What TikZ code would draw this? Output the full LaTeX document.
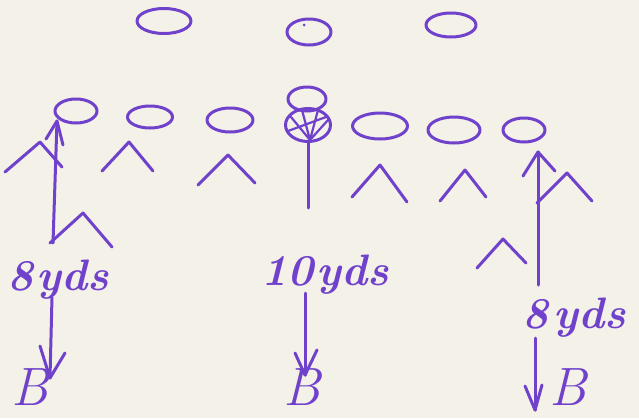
\documentclass[tikz,border=0pt]{standalone}
\usetikzlibrary{shapes.geometric}
\definecolor{ink}{RGB}{112,66,204}
\definecolor{paper}{RGB}{244,241,233}
\begin{document}
\begin{tikzpicture}[x=1pt,y=-1pt,
 pen/.style={draw=ink, line width=3pt, line cap=round, line join=round},
 player/.style={pen, ellipse, inner sep=0pt},
 lbl/.style={text=ink, font=\fontsize{44}{44}\selectfont\bfseries\itshape, inner sep=0pt, anchor=base},
 bee/.style={text=ink, font=\fontsize{54}{54}\selectfont\itshape, inner sep=0pt, anchor=base}]
\fill[paper] (0,0) rectangle (639,418);
\useasboundingbox (0,0) rectangle (639,418);
% back row
\node[player, minimum width=54pt, minimum height=25pt] (o1) at (164,21) {};
\node[player, minimum width=44pt, minimum height=26pt] (o2) at (309,32) {};
\fill[ink] (304,25) circle (1.5pt);
\node[player, minimum width=50pt, minimum height=24pt] (o3) at (451,25) {};
% line
\node[player, minimum width=42pt, minimum height=24pt] (l1) at (76,111) {};
\node[player, minimum width=45pt, minimum height=22pt] (l2) at (150,117) {};
\node[player, minimum width=46pt, minimum height=24pt] (l3) at (230,120) {};
\node[player, minimum width=38pt, minimum height=24pt] (qb) at (307,99) {};
\node[player, minimum width=45pt, minimum height=33pt] (c) at (308,125) {};
\draw[pen, line width=2.2pt] (310,140) -- (291,117) (310,140) -- (302,110) (310,140) -- (318,110) (310,140) -- (328,120) (288,131) -- (326,117);
\node[player, minimum width=55pt, minimum height=26pt] (l5) at (380,126) {};
\node[player, minimum width=52pt, minimum height=26pt] (l6) at (454,130) {};
\node[player, minimum width=42pt, minimum height=24pt] (l7) at (524,130) {};
% center's route
\coordinate (cend) at (308,208);
\draw[pen] (c.south) -- (cend);
% defenders
\draw[pen] (5,172) -- (40,142) -- (62,167);
\draw[pen] (50,243) -- (83,213) -- (112,247);
\draw[pen] (102,171) -- (129,142) -- (153,171);
\draw[pen] (198,185) -- (228,155) -- (255,183);
\draw[pen] (352,197) -- (380,165) -- (407,202);
\draw[pen] (440,201) -- (465,170) -- (486,197);
\draw[pen] (537,203) -- (567,173) -- (592,201);
\draw[pen] (477,268) -- (503,239) -- (526,263);
% left route
\coordinate (r1s) at (53,243);
\coordinate (r1e) at (57,121);
\draw[pen] (r1s) -- (r1e);
\draw[pen] (46,139) -- (r1e) -- (63,145);
% right route
\coordinate (r2s) at (538,285);
\coordinate (r2e) at (538,152);
\draw[pen] (r2s) -- (r2e);
\draw[pen] (523,176) -- (r2e) -- (555,171);
% labels
\node[lbl] (t1) at (58,290) {8\hspace{0.08em}yds};
\node[lbl] (t2) at (325,285) {10\hspace{0.08em}yds};
\node[lbl] (t3) at (574,328) {8\hspace{0.12em}yds};
\node[bee] (b1) at (30,405) {B};
\node[bee] (b2) at (302,405) {B};
\node[bee] (b3) at (568,405) {B};
% depth arrows
\coordinate (a1s) at (52,297); \coordinate (a1e) at (50,378);
\draw[pen] (a1s) -- (a1e);
\draw[pen] (40,346) -- (a1e) -- (65,353);
\coordinate (a2s) at (305,293); \coordinate (a2e) at (305,375);
\draw[pen] (a2s) -- (a2e);
\draw[pen] (295,353) -- (a2e) -- (317,350);
\coordinate (a3s) at (535,338); \coordinate (a3e) at (535,410);
\draw[pen] (a3s) -- (a3e);
\draw[pen] (525,386) -- (a3e) -- (542,385);
\end{tikzpicture}
\end{document}
